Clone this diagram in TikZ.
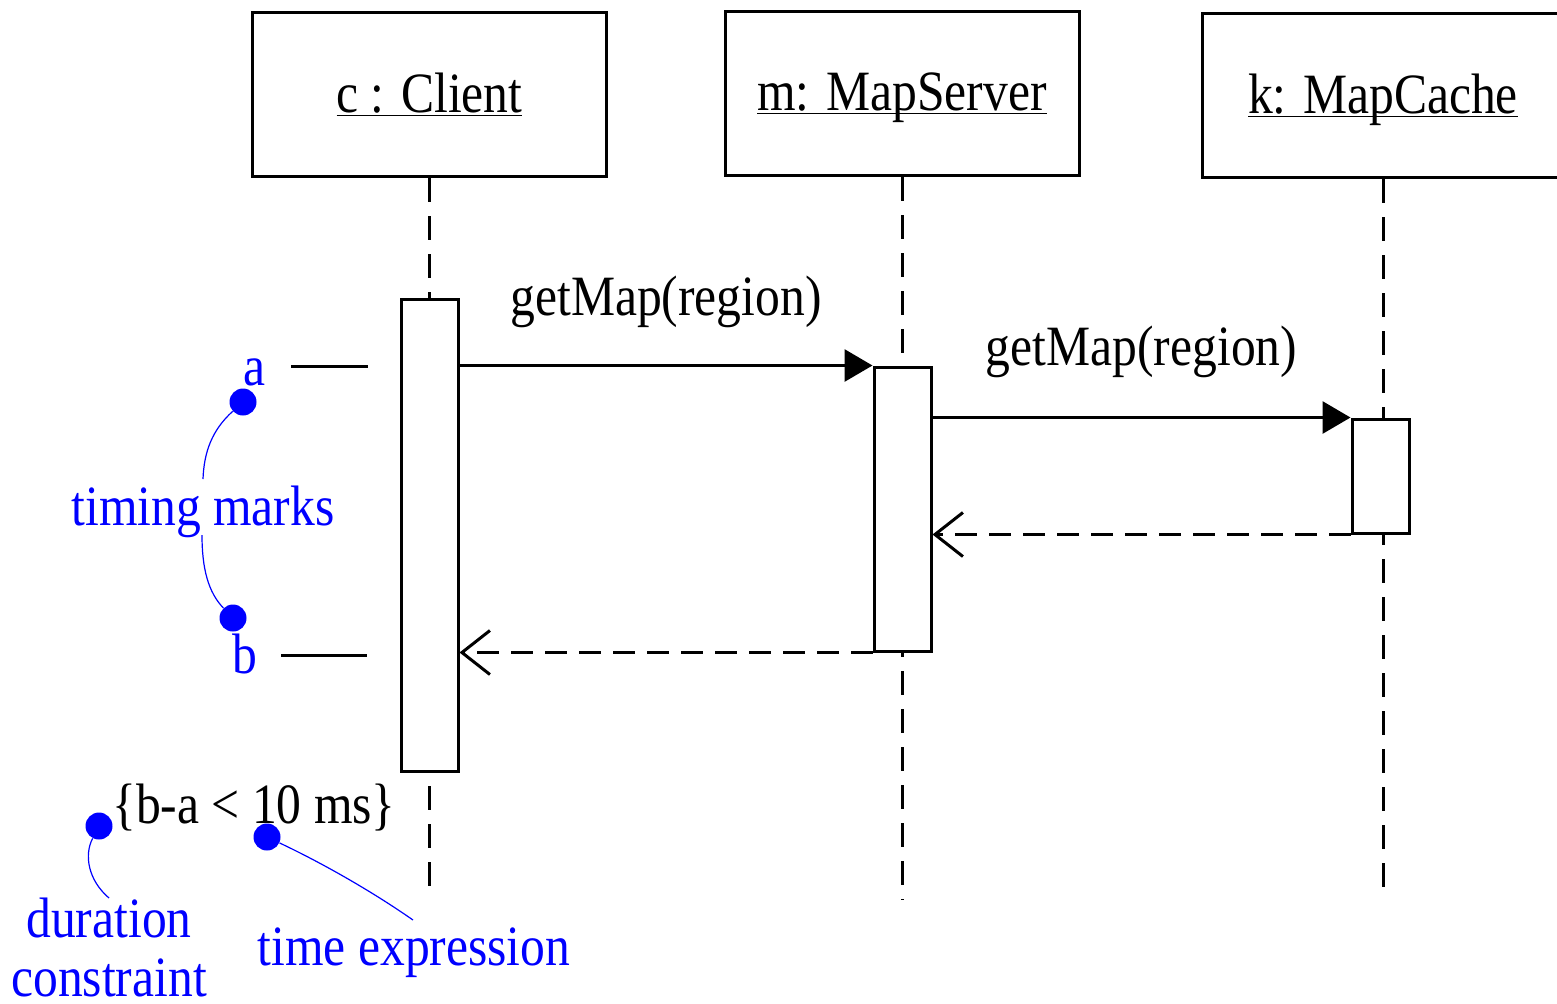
\documentclass[tikz,border=0pt]{standalone}
\usepackage{fontspec}
\setmainfont{Liberation Serif}[FakeStretch=0.87]
\usetikzlibrary{arrows.meta}
\newcommand{\objname}[1]{\underline{\raisebox{0pt}[\height][0pt]{#1}}}
\begin{document}
\begin{tikzpicture}[x=0.5pt,y=-0.5pt,font=\fontsize{28.5}{29.5}\selectfont,
  obj/.style={draw,line width=1.5pt,minimum width=177pt,minimum height=82pt,inner sep=0pt},
  act/.style={draw,fill=white,line width=1.5pt,minimum width=28.5pt,inner sep=0pt},
  life/.style={line width=1.5pt,dash pattern=on 12pt off 7pt},
  call/.style={line width=1.5pt,-{Triangle[length=14pt,width=16pt]}},
  reply/.style={line width=1.5pt,dash pattern=on 11pt off 6pt,-{Straight Barb[length=14pt,width=22pt]}},
  note/.style={text=blue},
  dot/.style={circle,fill=blue,inner sep=0pt,minimum size=13.5pt},
  lead/.style={blue,line width=0.6pt}]
\useasboundingbox (0,0) rectangle (1557,1003);
% objects and their lifelines
\node[obj] (client) at (429.5,94.5) {\objname{c : Client}};
\node[obj] (server) at (902,93.5) {\objname{m: MapServer}};
\node[obj,minimum width=181pt] (cache) at (1383,95.5) {\objname{k: MapCache}};
\foreach \o/\len in {client/717,server/723,cache/721}
\draw[life] (\o.south) -- ++(0,\len);
% activations
\node[act,minimum height=236pt] (cact) at (429.5,535) {};
\node[act,minimum height=142pt] (sact) at (902.5,509) {};
\node[act,minimum height=57pt] (kact) at (1380.5,476) {};
% messages
\draw[call] (cact.east |- sact.north) -- (sact.north west)
  node[midway,anchor=base,yshift=25pt] (msg1) {getMap(region)};
\draw[call] (sact.east |- kact.north) -- (kact.north west)
  node[midway,anchor=base,yshift=26pt] (msg2) {getMap(region)};
\draw[reply] (kact.south west) -- (sact.east |- kact.south);
\draw[reply] (sact.south west) -- (cact.east |- sact.south);
% timing marks
\draw[line width=1.5pt] (291,366) -- (368,366);
\draw[line width=1.5pt] (281,655) -- (367,655);
\node[note,anchor=base] (a) at (255,385) {a};
\node[note,anchor=base] (b) at (245,673) {b};
\node[dot] (adot) at (243,402) {};
\node[dot] (bdot) at (233,618) {};
\node[note,anchor=base] (marks) at (203,525) {timing marks};
\draw[lead] (adot) .. controls (212,430) and (204,452) .. (203,479);
\draw[lead] (202,535) .. controls (202,568) and (208,592) .. (bdot);
% constraint
\node[anchor=base] (constr) at (254,823) {\{b-a < 10 ms\}};
\node[dot] (ddot) at (99,826) {};
\node[dot] (tdot) at (267,837) {};
\node[note,align=center,anchor=north,inner sep=0pt] (durtxt) at (109,898) {duration\\constraint};
\node[note,anchor=base] (timetxt) at (414,965) {time expression};
\draw[lead] (ddot) .. controls (84,855) and (88,880) .. (durtxt.north);
\draw[lead] (tdot) .. controls (320,862) and (370,890) .. (413,920);
\end{tikzpicture}
\end{document}
